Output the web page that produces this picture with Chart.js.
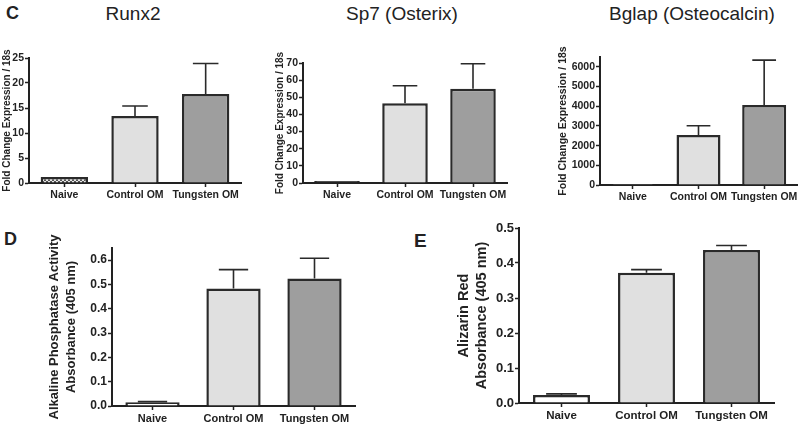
<!DOCTYPE html>
<html>
<head>
<meta charset="utf-8">
<title>Osteogenic markers</title>
<script src="https://cdn.jsdelivr.net/npm/chart.js@4.4.1/dist/chart.umd.min.js"></script>
<style>
  html, body { margin: 0; padding: 0; background: #fff; }
  #figure { position: relative; width: 800px; height: 425px; overflow: hidden;
            font-family: 'Liberation Sans', Arial, sans-serif; color: #222; }
  #figure canvas { position: absolute; }
  .letter { position: absolute; font-weight: bold; line-height: 1; }
  .gene { position: absolute; top: 4px; font-size: 19px; line-height: 1;
          transform: translateX(-50%); white-space: nowrap; }
</style>
</head>
<body>
<div id="figure">
  <div class="letter" style="left:6px;top:4px;font-size:18px">C</div>
  <div class="letter" style="left:4px;top:230px;font-size:18px">D</div>
  <div class="letter" style="left:414px;top:231px;font-size:19px">E</div>

  <div class="gene" style="left:133px">Runx2</div>
  <div class="gene" style="left:402px">Sp7 (Osterix)</div>
  <div class="gene" style="left:692px">Bglap (Osteocalcin)</div>

  <canvas id="runx2Chart" width="250" height="165" style="left:1px;top:40px"></canvas>
  <canvas id="sp7Chart" width="243" height="165" style="left:274px;top:40px"></canvas>
  <canvas id="bglapChart" width="243" height="167" style="left:557px;top:40px"></canvas>
  <canvas id="alpChart" width="319" height="197" style="left:46px;top:228px"></canvas>
  <canvas id="alizarinChart" width="330" height="215" style="left:455px;top:210px"></canvas>
</div>

<script>
// groups, same for every panel
const categories = ['Naive', 'Control OM', 'Tungsten OM'];

// qPCR fold change vs 18s (mean, upper SEM)
const runx2Mean = [1.2, 13.4, 17.8];
const runx2Sem = [0, 2.0, 6.1];
const runx2Ticks = [0, 5, 10, 15, 20, 25];

const sp7Mean = [1.2, 46.5, 55.0];
const sp7Sem = [0, 10.2, 14.6];
const sp7Ticks = [0, 10, 20, 30, 40, 50, 60, 70];

const bglapMean = [3, 2540, 4060];
const bglapSem = [0, 470, 2280];
const bglapTicks = [0, 1000, 2000, 3000, 4000, 5000, 6000];

// absorbance assays
const alpMean = [0.015, 0.483, 0.525];
const alpSem = [0.003, 0.078, 0.083];
const alpTicks = [0.0, 0.1, 0.2, 0.3, 0.4, 0.5, 0.6];

const alizarinMean = [0.023, 0.372, 0.437];
const alizarinSem = [0.003, 0.009, 0.013];
const alizarinTicks = [0.0, 0.1, 0.2, 0.3, 0.4, 0.5];

const FONT = "'Liberation Sans', Arial, sans-serif";
const INK = '#222222';
const EDGE = '#2a2a2a';
const CONTROL_FILL = '#e0e0e0';
const TUNGSTEN_FILL = '#9e9e9e';

// crosshatch used for the naive Runx2 bar
function makeHatch() {
    const tile = document.createElement('canvas');
    tile.width = 4;
    tile.height = 4;
    const c = tile.getContext('2d');
    c.fillStyle = '#e6e6e6';
    c.fillRect(0, 0, 4, 4);
    c.strokeStyle = '#555';
    c.lineWidth = 1;
    c.beginPath();
    c.moveTo(0, 0); c.lineTo(4, 4);
    c.moveTo(4, 0); c.lineTo(0, 4);
    c.stroke();
    return c.createPattern(tile, 'repeat');
}

// upward-only SEM whiskers with a cap
const errorBarPlugin = {
    id: 'errorBars',
    afterDatasetsDraw(chart, args, opts) {
        const ctx = chart.ctx;
        const yScale = chart.scales.y;
        const means = chart.data.datasets[0].data;
        const meta = chart.getDatasetMeta(0);
        ctx.save();
        ctx.strokeStyle = EDGE;
        ctx.lineWidth = 1.6;
        meta.data.forEach((bar, i) => {
            const err = opts.errors[i];
            if (!err) return;
            const yTop = yScale.getPixelForValue(means[i] + err);
            const half = bar.width * 0.27;
            ctx.beginPath();
            ctx.moveTo(bar.x, bar.y);
            ctx.lineTo(bar.x, yTop);
            ctx.moveTo(bar.x - half, yTop);
            ctx.lineTo(bar.x + half, yTop);
            ctx.stroke();
        });
        ctx.restore();
    }
};

function buildPanel(id, means, sems, ticks, p) {
    const ctx = document.getElementById(id);
    return new Chart(ctx, {
        type: 'bar',
        data: {
            labels: categories,
            datasets: [{
                data: means,
                backgroundColor: p.fills,
                borderColor: EDGE,
                borderWidth: 2.5,
                categoryPercentage: 1,
                barPercentage: 0.67
            }]
        },
        plugins: [errorBarPlugin],
        options: {
            responsive: false,
            animation: false,
            layout: { padding: { top: p.padTop, right: p.padRight, left: 0, bottom: 0 } },
            plugins: {
                legend: { display: false },
                tooltip: { enabled: false },
                errorBars: { errors: sems }
            },
            scales: {
                x: {
                    offset: true,
                    border: { display: true, color: INK, width: 2 },
                    grid: {
                        display: true, drawOnChartArea: false, offset: false,
                        tickLength: 4, tickWidth: 1.5, tickColor: INK
                    },
                    ticks: {
                        color: INK, padding: 2, maxRotation: 0, autoSkip: false,
                        font: { family: FONT, size: p.catSize, weight: 'bold' }
                    },
                    afterFit: (s) => { s.height = p.axisHeight; }
                },
                y: {
                    min: 0,
                    max: p.yMax,
                    border: { display: true, color: INK, width: 2 },
                    grid: {
                        display: true, drawOnChartArea: false,
                        tickLength: 4, tickWidth: 1.5, tickColor: INK
                    },
                    ticks: {
                        color: INK, padding: 1,
                        font: { family: FONT, size: p.tickSize, weight: 'bold' },
                        callback: (v) => p.decimals ? Number(v).toFixed(p.decimals) : v
                    },
                    title: {
                        display: true,
                        text: p.yTitle,
                        color: INK,
                        padding: 0,
                        font: { family: FONT, size: p.titleSize, weight: 'bold', lineHeight: p.titleLine }
                    },
                    afterBuildTicks: (s) => { s.ticks = ticks.map(v => ({ value: v })); },
                    afterFit: (s) => { s.width = p.axisWidth; }
                }
            }
        }
    });
}

const hatch = makeHatch();
const foldTitle = 'Fold Change Expression / 18s';

buildPanel('runx2Chart', runx2Mean, runx2Sem, runx2Ticks, {
    fills: [hatch, CONTROL_FILL, TUNGSTEN_FILL],
    yMax: 25, yTitle: foldTitle, titleSize: 10, titleLine: 1.2,
    tickSize: 10.5, catSize: 10.5, axisWidth: 28, axisHeight: 22, padTop: 18, padRight: 10
});

buildPanel('sp7Chart', sp7Mean, sp7Sem, sp7Ticks, {
    fills: [EDGE, CONTROL_FILL, TUNGSTEN_FILL],
    yMax: 70, yTitle: foldTitle, titleSize: 10, titleLine: 1.2,
    tickSize: 10.5, catSize: 10.5, axisWidth: 29, axisHeight: 22, padTop: 23, padRight: 10
});

buildPanel('bglapChart', bglapMean, bglapSem, bglapTicks, {
    fills: ['#ffffff', CONTROL_FILL, TUNGSTEN_FILL],
    yMax: 6500, yTitle: foldTitle, titleSize: 10.5, titleLine: 1.2,
    tickSize: 10.5, catSize: 10.5, axisWidth: 43, axisHeight: 22, padTop: 17, padRight: 3
});

buildPanel('alpChart', alpMean, alpSem, alpTicks, {
    fills: ['#ffffff', CONTROL_FILL, TUNGSTEN_FILL],
    yMax: 0.65, decimals: 1,
    yTitle: ['Alkaline Phosphatase Activity', 'Absorbance (405 nm)'],
    titleSize: 13, titleLine: 1.3,
    tickSize: 12, catSize: 11, axisWidth: 66, axisHeight: 19, padTop: 20, padRight: 10
});

buildPanel('alizarinChart', alizarinMean, alizarinSem, alizarinTicks, {
    fills: ['#ffffff', CONTROL_FILL, TUNGSTEN_FILL],
    yMax: 0.5, decimals: 1,
    yTitle: ['Alizarin Red', 'Absorbance (405 nm)'],
    titleSize: 14.5, titleLine: 1.24,
    tickSize: 13, catSize: 11.5, axisWidth: 64, axisHeight: 22, padTop: 18, padRight: 11
});
</script>
</body>
</html>
